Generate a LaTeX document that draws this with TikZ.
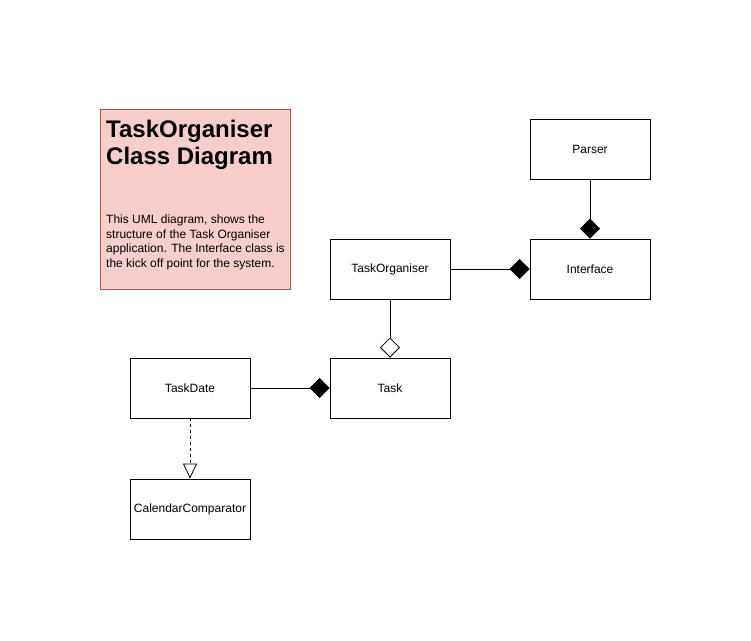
\documentclass[tikz,border=0pt]{standalone}
\usepackage{fontspec}
\setmainfont{Liberation Sans}
\usetikzlibrary{arrows.meta}
\definecolor{notefill}{HTML}{F8CECC}
\definecolor{notedraw}{HTML}{B85450}
\tikzset{
  cls/.style={draw=black, line width=0.8pt, fill=white, minimum width=120pt, minimum height=60pt, inner sep=0pt, font=\fontsize{12}{14}\selectfont},
  conn/.style={draw=black, line width=0.8pt},
  comp/.style={conn, -{Diamond[length=20pt,width=20pt]}},
  aggr/.style={conn, -{Diamond[open,length=20pt,width=20pt,fill=white]}},
  real/.style={conn, dashed, -{Triangle[open,length=15pt,width=14pt,fill=white]}},
}
\begin{document}
\begin{tikzpicture}[x=1pt,y=-1pt]
\useasboundingbox (0,0) rectangle (751,640);
% note
\node[draw=notedraw, fill=notefill, line width=0.8pt, minimum width=190pt, minimum height=180pt, anchor=north west, inner sep=0pt] (note) at (100,109) {};
\node[anchor=north west, align=left, inner sep=0pt, font=\fontsize{24}{27}\selectfont\bfseries] (title) at (106,120) {TaskOrganiser\\Class Diagram};
\node[anchor=north west, align=left, inner sep=0pt, font=\fontsize{12}{14.5}\selectfont] (body) at (106,215) {This UML diagram, shows the\\structure of the Task Organiser\\application. The Interface class is\\the kick off point for the system.};
% classes
\node[cls] (parser) at (590,149.5) {Parser};
\node[cls] (iface) at (590,269) {Interface};
\node[cls] (torg) at (390,269) {TaskOrganiser};
\node[cls] (task) at (390,388) {Task};
\node[cls] (tdate) at (190,388) {TaskDate};
\node[cls] (cal) at (190,509) {CalendarComparator};
% connectors
\draw[comp] (parser.south) -- (iface.north);
\draw[comp] (torg.east) -- (iface.west);
\draw[aggr] (torg.south) -- (task.north);
\draw[comp] (tdate.east) -- (task.west);
\draw[real] (tdate.south) -- (cal.north);
\end{tikzpicture}
\end{document}
